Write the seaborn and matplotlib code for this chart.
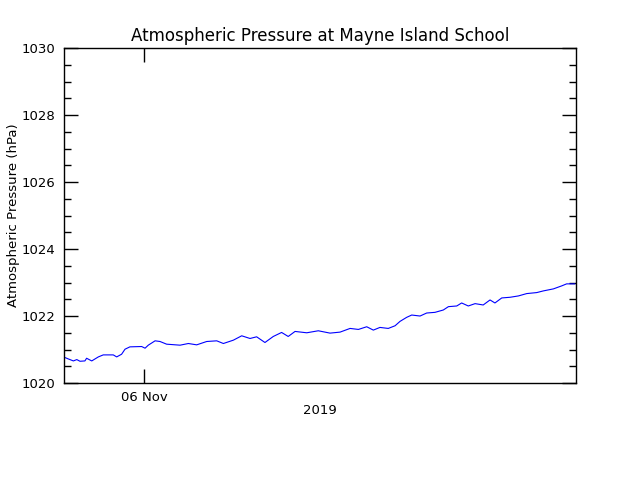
import numpy as np
import pandas as pd
import matplotlib.pyplot as plt
import matplotlib.dates as mdates
from matplotlib.ticker import MultipleLocator
import seaborn as sns

# hours after 2019-11-05 20:15 and pressure readings (hPa)
hours = [0.05, 0.20, 0.44, 0.60, 0.75, 0.98, 1.06, 1.30, 1.61, 1.84, 2.31, 2.47, 2.70, 2.86, 3.09,
		 3.64, 3.80, 3.95, 4.27, 4.50, 4.81, 5.44, 5.83, 6.22, 6.69, 7.16, 7.47, 7.94, 8.33, 8.72,
		 9.03, 9.42, 9.81, 10.20, 10.51, 10.83, 11.38, 11.92, 12.47, 12.94, 13.41, 13.80, 14.19,
		 14.50, 14.81, 15.20, 15.52, 15.75, 16.06, 16.30, 16.69, 17.00, 17.39, 17.78, 18.02, 18.41,
		 18.64, 18.95, 19.27, 19.65, 19.97, 20.20, 20.52, 20.91, 21.30, 21.69, 22.16, 22.47, 22.94,
		 23.33, 23.56, 23.95]
pressure = [1020.76, 1020.72, 1020.66, 1020.70, 1020.65, 1020.66, 1020.74, 1020.66, 1020.78, 1020.84,
			1020.84, 1020.78, 1020.86, 1021.01, 1021.08, 1021.09, 1021.04, 1021.13, 1021.26, 1021.24,
			1021.16, 1021.13, 1021.18, 1021.14, 1021.24, 1021.26, 1021.18, 1021.28, 1021.41, 1021.33,
			1021.38, 1021.21, 1021.39, 1021.51, 1021.39, 1021.54, 1021.50, 1021.56, 1021.49, 1021.52,
			1021.63, 1021.60, 1021.68, 1021.58, 1021.66, 1021.63, 1021.71, 1021.84, 1021.96, 1022.03,
			1022.00, 1022.09, 1022.11, 1022.18, 1022.28, 1022.30, 1022.39, 1022.30, 1022.37, 1022.33,
			1022.48, 1022.39, 1022.54, 1022.56, 1022.60, 1022.67, 1022.70, 1022.75, 1022.81, 1022.90,
			1022.96, 1022.96]

start = pd.Timestamp("2019-11-05 20:15")
df = pd.DataFrame({"time": start + pd.to_timedelta(hours, unit="h"), "pressure": pressure})

sns.set_style("ticks")
plt.rcParams['font.family'] = ['DejaVu Sans']
plt.rcParams['text.color'] = "black"
plt.rcParams['axes.labelcolor'] = "black"
plt.rcParams['xtick.labelcolor'] = "black"
plt.rcParams['ytick.labelcolor'] = "black"

fig = plt.figure(figsize=(6.4, 4.8), dpi=100)
ax = fig.add_axes([0.1, 0.202, 0.8, 0.698])
sns.lineplot(data=df, x="time", y="pressure", color="#0000ff", linewidth=0.8, ax=ax)

ax.set_xlim(start, start + pd.Timedelta(hours=24))
ax.set_ylim(1020, 1030)
ax.xaxis.set_major_locator(mdates.DayLocator())
ax.xaxis.set_major_formatter(mdates.DateFormatter("%d %b"))
ax.yaxis.set_major_locator(MultipleLocator(2))
ax.yaxis.set_minor_locator(MultipleLocator(0.5))
ax.tick_params(which="both", direction="in", top=True, right=True, color="black", width=1)
ax.tick_params(which="major", length=10, labelsize=9.5, pad=6)
ax.tick_params(which="minor", length=5)
for s in ax.spines.values():
	s.set_linewidth(1)
	s.set_color("black")

ax.set_xlabel("2019", fontsize=9.5, labelpad=0)
ax.set_ylabel("Atmospheric Pressure (hPa)", fontsize=9.5, labelpad=1)
ax.set_title("Atmospheric Pressure at Mayne Island School", fontsize=12, pad=5)

plt.savefig("out.png", dpi=100)
